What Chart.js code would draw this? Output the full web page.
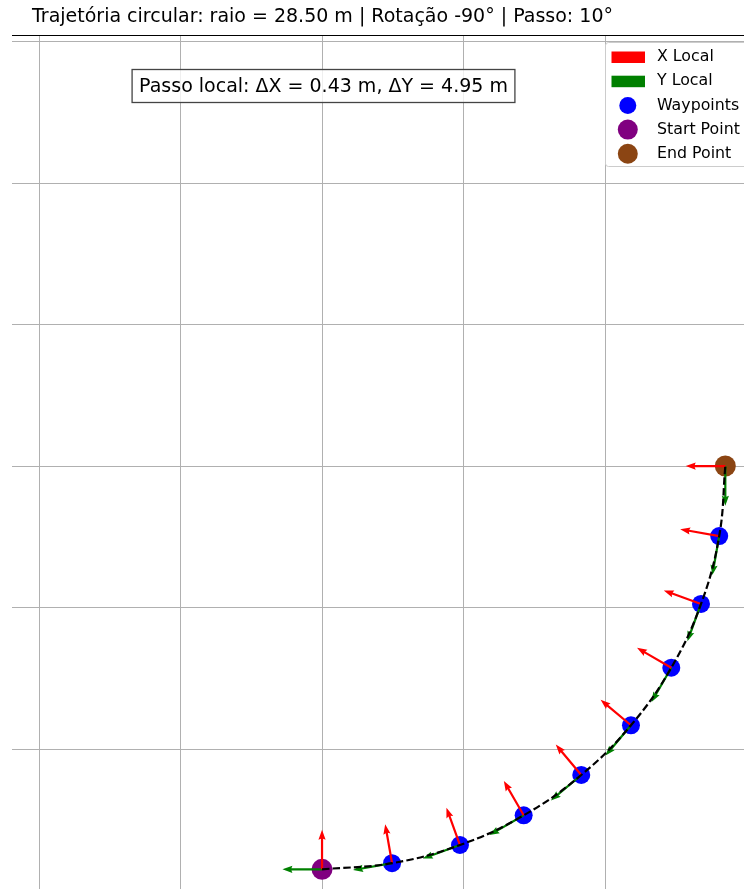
<!DOCTYPE html>
<html>
<head>
<meta charset="utf-8">
<script src="https://cdn.jsdelivr.net/npm/chart.js@4/dist/chart.umd.min.js"></script>
<style>
  html, body { margin: 0; padding: 0; background: #ffffff; }
  #wrap { width: 744px; height: 889px; position: relative; }
</style>
</head>
<body>
<div id="wrap"><canvas id="c" width="744" height="889"></canvas></div>
<script>
// Waypoints along the circular path (metres), every 10 degrees
const waypointX = [0, 4.949, 9.748, 14.25, 18.319, 21.832, 24.682, 26.781, 28.067, 28.5];
const waypointY = [-28.5, -28.067, -26.781, -24.682, -21.832, -18.319, -14.25, -9.748, -4.949, 0];

// Local frame axes at each waypoint (vector components, metres)
const xLocalU = [0, -0.486, -0.958, -1.4, -1.8, -2.145, -2.425, -2.631, -2.757, -2.8];
const xLocalV = [2.8, 2.757, 2.631, 2.425, 2.145, 1.8, 1.4, 0.958, 0.486, 0];
const yLocalU = [-2.8, -2.757, -2.631, -2.425, -2.145, -1.8, -1.4, -0.958, -0.486, 0];
const yLocalV = [0, -0.486, -0.958, -1.4, -1.8, -2.145, -2.425, -2.631, -2.757, -2.8];

// Grid positions
const xGridTicks = [-20, -10, 0, 10, 20];
const yGridTicks = [-20, -10, 0, 10, 20, 30];

// Texts
const titleText = 'Trajetória circular: raio = 28.50 m | Rotação -90° | Passo: 10°';
const stepText = 'Passo local: ΔX = 0.43 m, ΔY = 4.95 m';
const legendItems = [
  { label: 'X Local', kind: 'rect', color: '#ff0000' },
  { label: 'Y Local', kind: 'rect', color: '#008000' },
  { label: 'Waypoints', kind: 'dot', color: '#0000ff', r: 8.5 },
  { label: 'Start Point', kind: 'dot', color: '#800080', r: 10 },
  { label: 'End Point', kind: 'dot', color: '#8b4513', r: 10 }
];

const FONT = '"DejaVu Sans", "Liberation Sans", sans-serif';

const pts = waypointX.map((x, i) => ({ x: x, y: waypointY[i] }));
const last = pts.length - 1;

function drawArrow(ctx, x0, y0, x1, y1, color) {
  const dx = x1 - x0, dy = y1 - y0;
  const L = Math.hypot(dx, dy);
  if (L === 0) return;
  const ux = dx / L, uy = dy / L;
  const px = -uy, py = ux;
  const sw = 1.1, hl = 10, ha = 9, hw = 3.6;
  const P = (a, b) => [x0 + ux * a + px * b, y0 + uy * a + py * b];
  const poly = [
    P(0, -sw), P(L - ha, -sw), P(L - hl, -hw), P(L, 0),
    P(L - hl, hw), P(L - ha, sw), P(0, sw)
  ];
  ctx.beginPath();
  ctx.moveTo(poly[0][0], poly[0][1]);
  for (let i = 1; i < poly.length; i++) ctx.lineTo(poly[i][0], poly[i][1]);
  ctx.closePath();
  ctx.fillStyle = color;
  ctx.fill();
}

// Local frame arrows, drawn just before the dashed path
const framePlugin = {
  id: 'frameArrows',
  beforeDatasetDraw(chart, args) {
    if (chart.data.datasets[args.index].id !== 'path') return;
    const ctx = chart.ctx, xs = chart.scales.x, ys = chart.scales.y;
    ctx.save();
    for (let i = 0; i < waypointX.length; i++) {
      const x0 = xs.getPixelForValue(waypointX[i]);
      const y0 = ys.getPixelForValue(waypointY[i]);
      drawArrow(ctx, x0, y0,
        xs.getPixelForValue(waypointX[i] + yLocalU[i]),
        ys.getPixelForValue(waypointY[i] + yLocalV[i]), '#008000');
      drawArrow(ctx, x0, y0,
        xs.getPixelForValue(waypointX[i] + xLocalU[i]),
        ys.getPixelForValue(waypointY[i] + xLocalV[i]), '#ff0000');
    }
    ctx.restore();
  }
};

// Title, top spine, step annotation and legend
const decorPlugin = {
  id: 'decor',
  afterDraw(chart) {
    const ctx = chart.ctx, area = chart.chartArea;
    ctx.save();
    // top spine
    ctx.strokeStyle = '#000000';
    ctx.lineWidth = 1.2;
    ctx.beginPath();
    ctx.moveTo(area.left, area.top + 0.5);
    ctx.lineTo(area.right, area.top + 0.5);
    ctx.stroke();

    // title
    ctx.fillStyle = '#000000';
    ctx.font = '19px ' + FONT;
    ctx.textAlign = 'center';
    ctx.textBaseline = 'middle';
    ctx.fillText(titleText, 322.5, 17);

    // step annotation box
    ctx.font = '19px ' + FONT;
    const tw = ctx.measureText(stepText).width;
    const cx = 323.5, cy = 86;
    const bw = tw + 14, bh = 33;
    ctx.fillStyle = 'rgba(255,255,255,0.8)';
    ctx.fillRect(cx - bw / 2, cy - bh / 2, bw, bh);
    ctx.strokeStyle = '#444444';
    ctx.lineWidth = 1.3;
    ctx.strokeRect(cx - bw / 2, cy - bh / 2, bw, bh);
    ctx.fillStyle = '#000000';
    ctx.fillText(stepText, cx, cy + 1);

    // legend
    const lx = 605.5, ly = 42.5, lw = 160, lh = 124;
    ctx.fillStyle = 'rgba(255,255,255,0.8)';
    ctx.strokeStyle = '#cccccc';
    ctx.lineWidth = 1;
    ctx.beginPath();
    ctx.roundRect(lx, ly, lw, lh, 3);
    ctx.fill();
    ctx.stroke();
    ctx.font = '15.8px ' + FONT;
    ctx.textAlign = 'left';
    legendItems.forEach((it, i) => {
      const yy = 57 + i * 24.2;
      ctx.fillStyle = it.color;
      if (it.kind === 'rect') {
        ctx.fillRect(611.5, yy - 5.5, 33.5, 11.5);
      } else {
        ctx.beginPath();
        ctx.arc(627.8, yy, it.r, 0, Math.PI * 2);
        ctx.fill();
      }
      ctx.fillStyle = '#000000';
      ctx.fillText(it.label, 657, yy);
    });
    ctx.restore();
  }
};

const gridScale = (min, max, ticksArr) => ({
  type: 'linear',
  min: min,
  max: max,
  afterBuildTicks(scale) { scale.ticks = ticksArr.map(v => ({ value: v })); },
  ticks: { display: false, padding: 0 },
  border: { display: false },
  grid: { color: '#b0b0b0', lineWidth: 1, drawTicks: false, tickLength: 0 }
});

new Chart(document.getElementById('c'), {
  type: 'scatter',
  data: {
    datasets: [
      {
        id: 'path',
        type: 'line',
        data: pts,
        borderColor: '#000000',
        borderWidth: 2.2,
        borderDash: [7.4, 3.2],
        pointRadius: 0,
        tension: 0.4,
        fill: false,
        order: 0
      },
      {
        label: 'End Point',
        data: [pts[last]],
        backgroundColor: '#8b4513',
        borderWidth: 0,
        pointRadius: 10.5,
        order: 1
      },
      {
        label: 'Start Point',
        data: [pts[0]],
        backgroundColor: '#800080',
        borderWidth: 0,
        pointRadius: 10.5,
        order: 2
      },
      {
        label: 'Waypoints',
        data: pts,
        backgroundColor: '#0000ff',
        borderWidth: 0,
        pointRadius: 9,
        order: 3
      }
    ]
  },
  options: {
    responsive: false,
    animation: false,
    devicePixelRatio: 1,
    layout: { autoPadding: false, padding: { left: 12, top: 35, right: 0, bottom: 0 } },
    plugins: { legend: { display: false }, tooltip: { enabled: false }, title: { display: false } },
    scales: {
      x: gridScale(-21.91, 29.82, xGridTicks),
      y: gridScale(-29.89, 30.46, yGridTicks)
    }
  },
  plugins: [framePlugin, decorPlugin]
});
</script>
</body>
</html>
